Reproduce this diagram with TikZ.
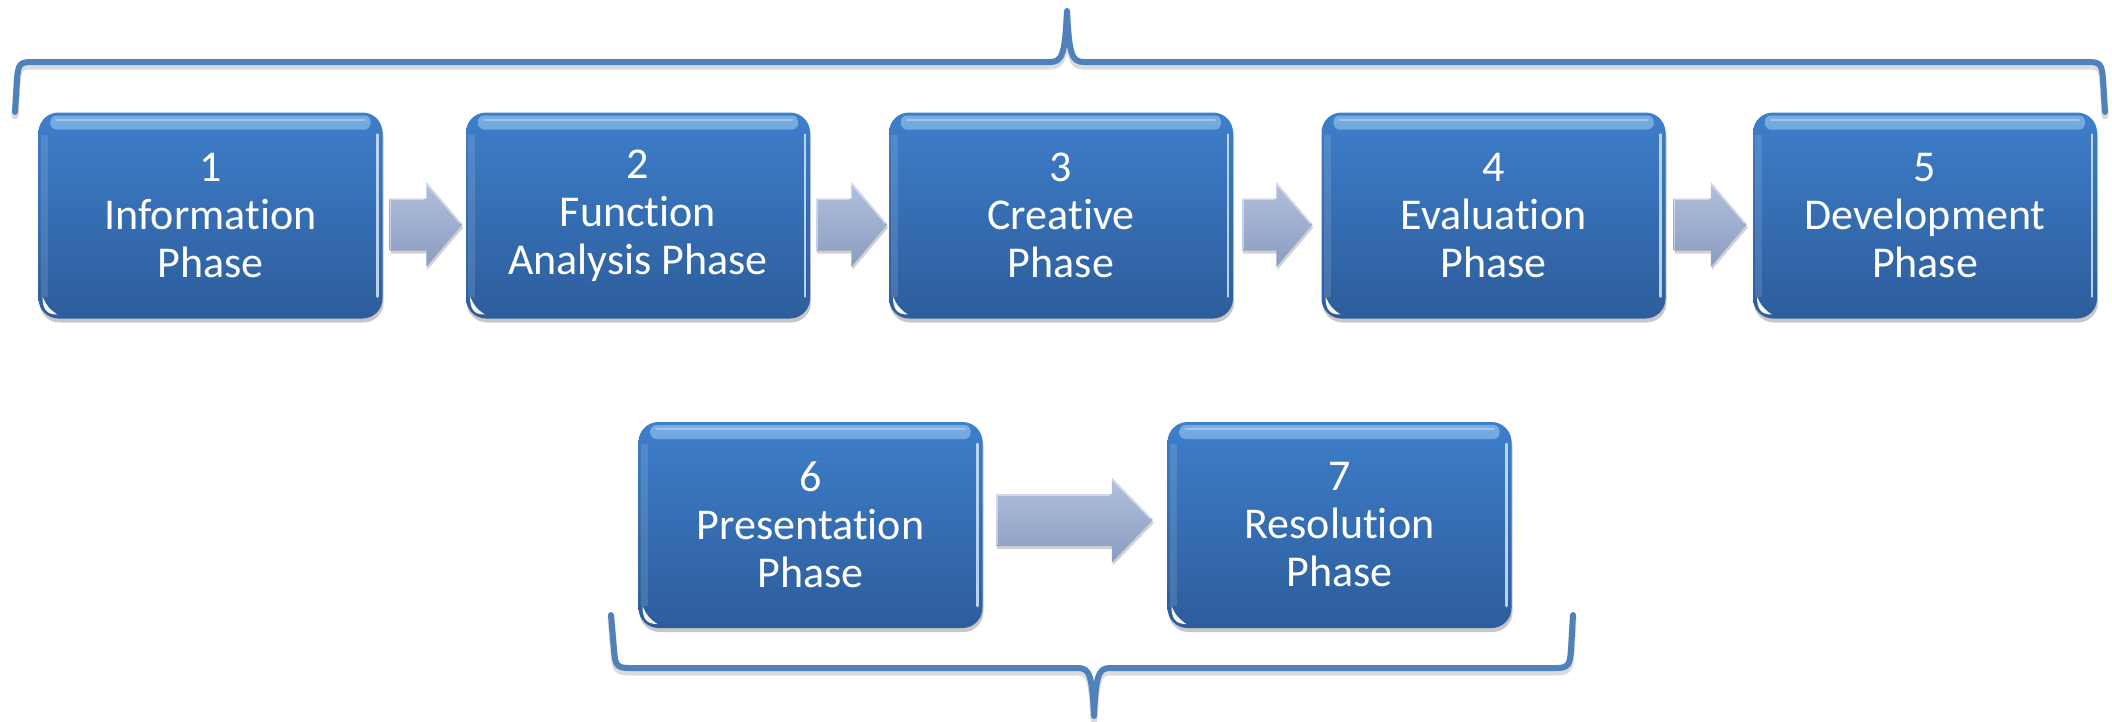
\documentclass[tikz,border=0pt]{standalone}
\usepackage{fontspec}
\setmainfont{Carlito}[Ligatures={NoCommon}]
\usetikzlibrary{calc,shadows}
\definecolor{boxtop}{RGB}{62,126,202}
\definecolor{boxbot}{RGB}{45,93,155}
\definecolor{arrtop}{RGB}{178,192,221}
\definecolor{arrbot}{RGB}{138,156,192}
\definecolor{bracecol}{RGB}{79,129,189}
\definecolor{hilite}{RGB}{160,205,245}
\tikzset{
  phasebox/.style={rounded corners=20pt, minimum width=344pt, minimum height=206pt,
    inner sep=0pt, align=center, text=white,
    font=\fontsize{44pt}{48pt}\selectfont,
    top color=boxtop, bottom color=boxbot,
    drop shadow={shadow xshift=1pt, shadow yshift=-4pt, opacity=0.22, fill=black},
    path picture={
      \shade[top color=hilite, bottom color=boxtop, opacity=0.6, rounded corners=6pt]
        ([xshift=12pt,yshift=-3pt]path picture bounding box.north west) rectangle
        ([xshift=-12pt,yshift=-17pt]path picture bounding box.north east);
      \draw[hilite!60!white, line width=2pt, opacity=0.5, line cap=round]
        ([xshift=18pt,yshift=-7pt]path picture bounding box.north west) --
        ([xshift=-18pt,yshift=-7pt]path picture bounding box.north east);
      \fill[white, opacity=0.12, sharp corners]
        ([xshift=2pt,yshift=-22pt]path picture bounding box.north west) rectangle
        ([xshift=9pt,yshift=22pt]path picture bounding box.south west);
      \draw[hilite!50!white, line width=2.5pt, opacity=0.85, line cap=round]
        ([xshift=-5pt,yshift=-22pt]path picture bounding box.north east) --
        ([xshift=-5pt,yshift=22pt]path picture bounding box.south east);
      \fill[white, opacity=0.95, sharp corners]
        ([xshift=4pt,yshift=22pt]path picture bounding box.south west)
        .. controls ([xshift=4pt,yshift=9pt]path picture bounding box.south west)
        and ([xshift=8pt,yshift=4pt]path picture bounding box.south west)
        .. ([xshift=19pt,yshift=4pt]path picture bounding box.south west)
        .. controls ([xshift=11pt,yshift=9pt]path picture bounding box.south west)
        and ([xshift=8pt,yshift=13pt]path picture bounding box.south west)
        .. cycle;
    }},
  arrowshape/.style={top color=arrtop, bottom color=arrbot,
    drop shadow={shadow xshift=1pt, shadow yshift=-3pt, opacity=0.18, fill=black}},
  arrowedge/.style={draw=white, opacity=0.45, line width=1.5pt},
  bracestyle/.style={draw=bracecol, line width=6pt, line cap=round, line join=round},
  braceshadow/.style={draw=black, opacity=0.14, line width=7pt, line cap=round, line join=round}
}
% #1 from node, #2 to node, #3 start gap, #4 tip gap, #5 y offset, #6 head length
\newcommand\phasearrow[6]{%
  \coordinate (#1-s) at ($(#1.east)+(#3,#5)$);
  \coordinate (#1-t) at ($(#2.west)+(-#4,#5)$);
  \path[arrowshape] ($(#1-s)+(0,-26)$) -- ($(#1-t)+(-#6,-26)$) -- ($(#1-t)+(-#6,-42.5)$)
    -- (#1-t) -- ($(#1-t)+(-#6,42.5)$) -- ($(#1-t)+(-#6,26)$) -- ($(#1-s)+(0,26)$) -- cycle;
  \draw[arrowedge] ($(#1-s)+(1,25)$) -- ($(#1-s)+(1,-25)$) -- ($(#1-t)+(-#6-2,-25)$);
  \draw[arrowedge] ($(#1-t)+(-#6,-41)$) -- ($(#1-t)+(-2,-1)$);
}
\begin{document}
\begin{tikzpicture}[x=1pt,y=-1pt]
\useasboundingbox (0,0) rectangle (2112,721);

% top brace
\draw[braceshadow, yshift=-4pt] (15,112) -- (17,80) .. controls (18,64) and (20,62) .. (32,62)
  -- (1050,62) .. controls (1062,62) and (1065,55) .. (1067,11)
  .. controls (1069,55) and (1072,62) .. (1084,62) -- (2088,62)
  .. controls (2100,62) and (2102,64) .. (2103,80) -- (2105,112);
\draw[bracestyle] (15,112) -- (17,80) .. controls (18,64) and (20,62) .. (32,62)
  -- (1050,62) .. controls (1062,62) and (1065,55) .. (1067,11)
  .. controls (1069,55) and (1072,62) .. (1084,62) -- (2088,62)
  .. controls (2100,62) and (2102,64) .. (2103,80) -- (2105,112);

% bottom brace
\draw[braceshadow, yshift=-4pt] (611,615) -- (614,650) .. controls (615,665) and (617,668) .. (629,668)
  -- (1078,668) .. controls (1090,668) and (1092,676) .. (1094,716)
  .. controls (1096,676) and (1098,668) .. (1110,668) -- (1556,668)
  .. controls (1568,668) and (1570,665) .. (1571,650) -- (1573,615);
\draw[bracestyle] (611,615) -- (614,650) .. controls (615,665) and (617,668) .. (629,668)
  -- (1078,668) .. controls (1090,668) and (1092,676) .. (1094,716)
  .. controls (1096,676) and (1098,668) .. (1110,668) -- (1556,668)
  .. controls (1568,668) and (1570,665) .. (1571,650) -- (1573,615);

% boxes
\node[phasebox] (b1) at (210.5,215.5) {1\\Information\\Phase};
\node[phasebox] (b2) at (638,215.5) {2\\Function\\Analysis Phase};
\node[phasebox] (b3) at (1061,215.5) {3\\Creative\\Phase};
\node[phasebox] (b4) at (1493.5,215.5) {4\\Evaluation\\Phase};
\node[phasebox] (b5) at (1925,215.5) {5\\Development\\Phase};
\node[phasebox] (b6) at (810.5,525) {6\\Presentation\\Phase};
\node[phasebox] (b7) at (1339.5,525) {7\\Resolution\\Phase};

% arrows
\phasearrow{b1}{b2}{7}{3.5}{9}{36}
\phasearrow{b2}{b3}{6}{1.5}{9}{36}
\phasearrow{b3}{b4}{9}{9}{9}{36}
\phasearrow{b4}{b5}{8}{6}{9}{36}
\phasearrow{b6}{b7}{13.5}{14.5}{-5}{41}
\end{tikzpicture}
\end{document}
